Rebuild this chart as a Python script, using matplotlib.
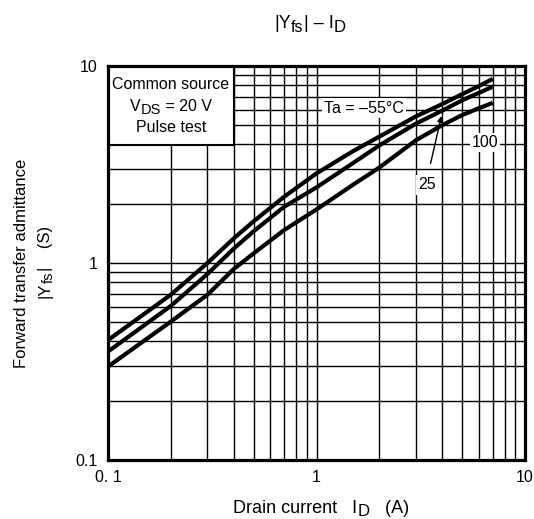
import matplotlib
matplotlib.use("Agg")
import matplotlib.pyplot as plt
from matplotlib.patches import Rectangle
from matplotlib.transforms import IdentityTransform
from matplotlib.ticker import LogLocator, NullFormatter, FixedLocator, FixedFormatter

plt.rcParams['font.family'] = ['Liberation Sans', 'DejaVu Sans']

# Data
id_a = [0.1, 0.2, 0.3, 0.4, 0.5, 0.7, 1.0, 1.5, 2.0, 3.0, 4.0, 5.0, 6.0, 7.0]
yfs_m55 = [0.406, 0.69, 1.0, 1.33, 1.63, 2.17, 2.85, 3.7, 4.38, 5.55, 6.4, 7.2, 7.9, 8.6]
yfs_25 = [0.355, 0.605, 0.88, 1.18, 1.45, 1.93, 2.42, 3.22, 3.95, 5.1, 5.93, 6.7, 7.3, 7.85]
yfs_100 = [0.298, 0.504, 0.69, 0.93, 1.12, 1.47, 1.87, 2.5, 3.05, 4.2, 5.0, 5.64, 6.1, 6.5]

x_ticks = [0.1, 1, 10]
x_ticklabels = ["0. 1", "1", "10"]
y_ticks = [0.1, 1, 10]
y_ticklabels = ["0.1", "1", "10"]

FS = 11.5
TFS = 11.5
LFS = 13
W, H = 534, 519

fig = plt.figure(figsize=(W/100, H/100), dpi=100)
ax = fig.add_axes([108/W, 1-460/H, 417/W, 394/H])

ax.set_xscale('log')
ax.set_yscale('log')
ax.set_xlim(0.1, 10)
ax.set_ylim(0.1, 10)

for y in (yfs_m55, yfs_25, yfs_100):
    ax.plot(id_a, y, color='black', lw=3.0, solid_capstyle='butt', solid_joinstyle='round', zorder=4)

ax.xaxis.set_major_locator(FixedLocator(x_ticks))
ax.xaxis.set_major_formatter(FixedFormatter(x_ticklabels))
ax.yaxis.set_major_locator(FixedLocator(y_ticks))
ax.yaxis.set_major_formatter(FixedFormatter(y_ticklabels))
ax.xaxis.set_minor_locator(LogLocator(base=10, subs=range(2, 10)))
ax.yaxis.set_minor_locator(LogLocator(base=10, subs=range(2, 10)))
ax.xaxis.set_minor_formatter(NullFormatter())
ax.yaxis.set_minor_formatter(NullFormatter())
ax.grid(True, which='both', color='black', lw=1.0, zorder=1)
ax.set_axisbelow(True)
ax.tick_params(which='both', length=0, labelsize=TFS)
ax.tick_params(axis='x', pad=7.5)
ax.tick_params(axis='y', pad=7.5)
for s in ax.spines.values():
    s.set_linewidth(2.3)
    s.set_zorder(6)

renderer = fig.canvas.get_renderer()


def rich(x, y_base, pieces, rotation=0, zorder=7):
    """Draw text pieces (text, size, drop_px) centred at pixel x, baseline y_base (from top)."""
    ident = IdentityTransform()
    lens = []
    for s, fs, d in pieces:
        t = fig.text(0, 0, s, fontsize=fs, transform=ident)
        bb = t.get_window_extent(renderer)
        lens.append(bb.width)
        t.remove()
    total = sum(lens)
    pos = -total / 2
    y = H - y_base
    for (s, fs, d), L in zip(pieces, lens):
        if rotation == 0:
            fig.text(x + pos, y - d, s, fontsize=fs, ha='left', va='baseline',
                     transform=ident, zorder=zorder)
        else:
            fig.text(x + d, y + pos, s, fontsize=fs, ha='left', va='baseline',
                     rotation=90, rotation_mode='anchor', transform=ident, zorder=zorder)
        pos += L


# Condition box
box = Rectangle((0, 0.8), 0.302, 0.2, transform=ax.transAxes, facecolor='white',
                edgecolor='black', lw=1.5, zorder=5)
ax.add_patch(box)
ax.text(0.151, 0.953, "Common source", transform=ax.transAxes, ha='center', va='center', fontsize=FS, zorder=7)
rich(171, 111, [("V", FS, 0), ("DS", 10.5, 2.5), (" = 20 V", FS, 0)])
ax.text(0.151, 0.845, "Pulse test", transform=ax.transAxes, ha='center', va='center', fontsize=FS, zorder=7)

bb = dict(facecolor='white', edgecolor='none', pad=1.5)
ax.text(1.69, 6.12, "Ta = \u201355\u00b0C", ha='center', va='center', fontsize=FS, bbox=bb, zorder=3)
ax.text(6.43, 4.07, "100", ha='center', va='center', fontsize=FS, bbox=bb, zorder=3)
ax.text(3.39, 2.49, "25", ha='center', va='center', fontsize=FS, bbox=bb, zorder=3)
ax.annotate("", xy=(4.0, 5.75), xytext=(3.5, 3.1),
            arrowprops=dict(arrowstyle='-|>', color='black', lw=1.0, mutation_scale=8), zorder=5)

rich(310, 28, [("|Y", LFS, 0), ("fs", 11.5, 3.5), ("| \u2013 I", LFS, 0), ("D", 12, 3.5)])
rich(321, 513, [("Drain current   I", LFS, 0), ("D", 12, 3.5), ("   (A)", LFS, 0)])
fig.text(22/W, 1-263/H, "Forward transfer admittance", rotation=90, ha='center', va='center', fontsize=12)
rich(50, 262, [("|Y", 12, 0), ("fs", 10.5, 3), ("|    (S)", 12, 0)], rotation=90)

fig.savefig("out.png", dpi=100)
